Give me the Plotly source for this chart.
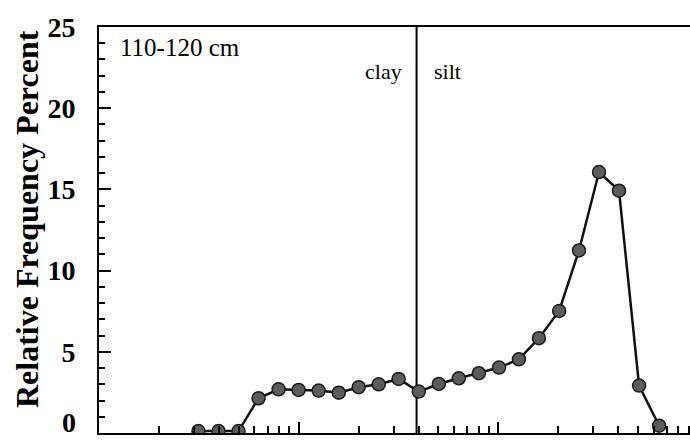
import plotly.graph_objects as go

# Particle diameter (µm), third-phi bins
diameter = [0.315, 0.397, 0.5, 0.63, 0.794, 1.0, 1.26, 1.59, 2.0, 2.52, 3.17, 4.0,
            5.04, 6.35, 8.0, 10.1, 12.7, 16.0, 20.2, 25.4, 32.0, 40.3, 50.8, 64.0]
frequency = [0.12, 0.12, 0.12, 2.14, 2.69, 2.65, 2.61, 2.48, 2.82, 3.0, 3.33, 2.55,
             3.02, 3.37, 3.68, 4.03, 4.54, 5.84, 7.52, 11.24, 16.07, 14.92, 2.92, 0.45]
clay_silt_boundary = 3.9
y_ticks = [0, 5, 10, 15, 20, 25]
y_ticktext = ["", "5", "10", "15", "20", "25"]   # "0" drawn separately so it stays inside the page
major_x = [0.1, 1, 10, 100]
minor_x = [m * d for d in (0.1, 1, 10) for m in range(2, 10)]

SERIF = "Liberation Serif"

fig = go.Figure()
fig.add_trace(go.Scatter(
    x=[clay_silt_boundary, clay_silt_boundary], y=[0, 25], mode="lines",
    line=dict(color="black", width=2), hoverinfo="skip", showlegend=False))
fig.add_trace(go.Scatter(
    x=diameter, y=frequency, mode="lines+markers",
    line=dict(color="#111111", width=2.5),
    marker=dict(size=13, color="#5c5c5c", line=dict(color="#1a1a1a", width=1.5)),
    showlegend=False))

fig.update_xaxes(
    type="log", range=[-1, 1.961], automargin=False,
    showline=True, linecolor="black", linewidth=2, mirror=True,
    showgrid=False, zeroline=False,
    tickmode="array", tickvals=major_x, ticks="inside", ticklen=11, tickwidth=2,
    tickcolor="black", showticklabels=False,
    minor=dict(tickmode="array", tickvals=minor_x, ticks="inside", ticklen=7,
               tickwidth=2, tickcolor="black", showgrid=False))
fig.update_yaxes(
    range=[0, 25], automargin=False,
    showline=True, linecolor="black", linewidth=2, mirror=False,
    showgrid=False, zeroline=False,
    tickmode="array", tickvals=y_ticks, ticktext=y_ticktext,
    ticks="inside", ticklen=12, tickwidth=2,
    tickcolor="black", ticklabelstandoff=16, ticklabeloverflow="allow",
    tickfont=dict(family=SERIF, size=28, color="black", weight="bold"),
    minor=dict(dtick=1, ticks="inside", ticklen=6, tickwidth=1.5,
               tickcolor="black", showgrid=False))

fig.add_annotation(text="<b>0</b>", xref="paper", yref="paper",
                   x=(78 - 99) / 591, y=(433 - 440) / 406,
                   xanchor="right", yanchor="bottom", showarrow=False,
                   font=dict(family=SERIF, size=28, color="black"))
fig.add_annotation(text="<b>Relative Frequency Percent</b>", textangle=-90,
                   xref="paper", yref="paper", x=(27 - 99) / 591, y=(433 - 219) / 406,
                   xanchor="center", yanchor="middle", showarrow=False,
                   font=dict(family=SERIF, size=32, color="black"))
fig.add_annotation(text="110-120 cm", xref="paper", yref="paper",
                   x=(118 - 99) / 591, y=(433 - 47) / 406,
                   xanchor="left", yanchor="middle", showarrow=False,
                   font=dict(family=SERIF, size=25, color="black"))
fig.add_annotation(text="clay", xref="paper", yref="paper",
                   x=(404 - 99) / 591, y=(433 - 71) / 406,
                   xanchor="right", yanchor="middle", showarrow=False,
                   font=dict(family=SERIF, size=22, color="black"))
fig.add_annotation(text="silt", xref="paper", yref="paper",
                   x=(432 - 99) / 591, y=(433 - 71) / 406,
                   xanchor="left", yanchor="middle", showarrow=False,
                   font=dict(family=SERIF, size=22, color="black"))

fig.update_layout(
    width=690, height=440, margin=dict(l=99, r=0, t=27, b=7),
    paper_bgcolor="white", plot_bgcolor="white")

fig.write_html("out.html")
